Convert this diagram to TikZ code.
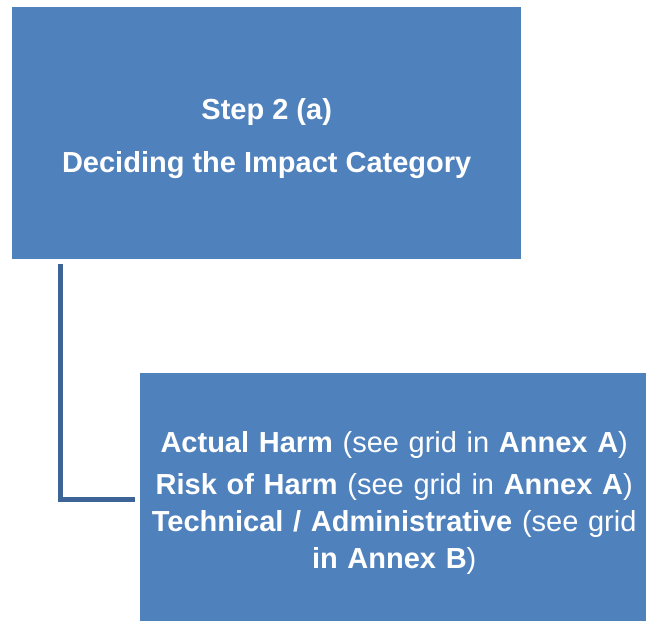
\documentclass[tikz,border=0pt]{standalone}
\usepackage{fontspec}
\setmainfont{Liberation Sans}
\definecolor{boxblue}{HTML}{4F81BD}
\definecolor{lineblue}{HTML}{3C6496}
\tikzset{
  stepbox/.style={fill=boxblue, draw=none, inner sep=0pt},
  steptext/.style={inner sep=0pt, text=white, align=center,
    font=\fontsize{29}{37}\selectfont},
  conn/.style={draw=lineblue, line width=5pt, line cap=butt, line join=miter}
}
\begin{document}
\begin{tikzpicture}[x=1pt,y=-1pt]
\useasboundingbox (0,0) rectangle (646,621);
\node[stepbox, anchor=north west, minimum width=509pt, minimum height=252pt] (top) at (12,7) {};
\node[stepbox, anchor=north west, minimum width=506pt, minimum height=252pt] (bot) at (140,373) {};
\node[steptext, yshift=-5.5pt] (toptext) at (top.center)
  {\textbf{Step 2 (a)}\\[16pt]\textbf{Deciding the Impact Category}};
\node[steptext, text width=500pt, yshift=-4pt] (bottext) at ([xshift=1pt]bot.center)
  {\textbf{Actual Harm} (see grid in \textbf{Annex A})\\[5pt]
   \textbf{Risk of Harm} (see grid in \textbf{Annex A})\\
   \textbf{Technical / Administrative} (see grid\\
   \textbf{in Annex B})};
\coordinate (cstart) at ([xshift=48.5pt,yshift=-5pt]top.south west);
\coordinate (cend) at ([xshift=-5pt,yshift=-0.5pt]bot.west);
\draw[conn] (cstart) |- (cend);
\end{tikzpicture}
\end{document}
